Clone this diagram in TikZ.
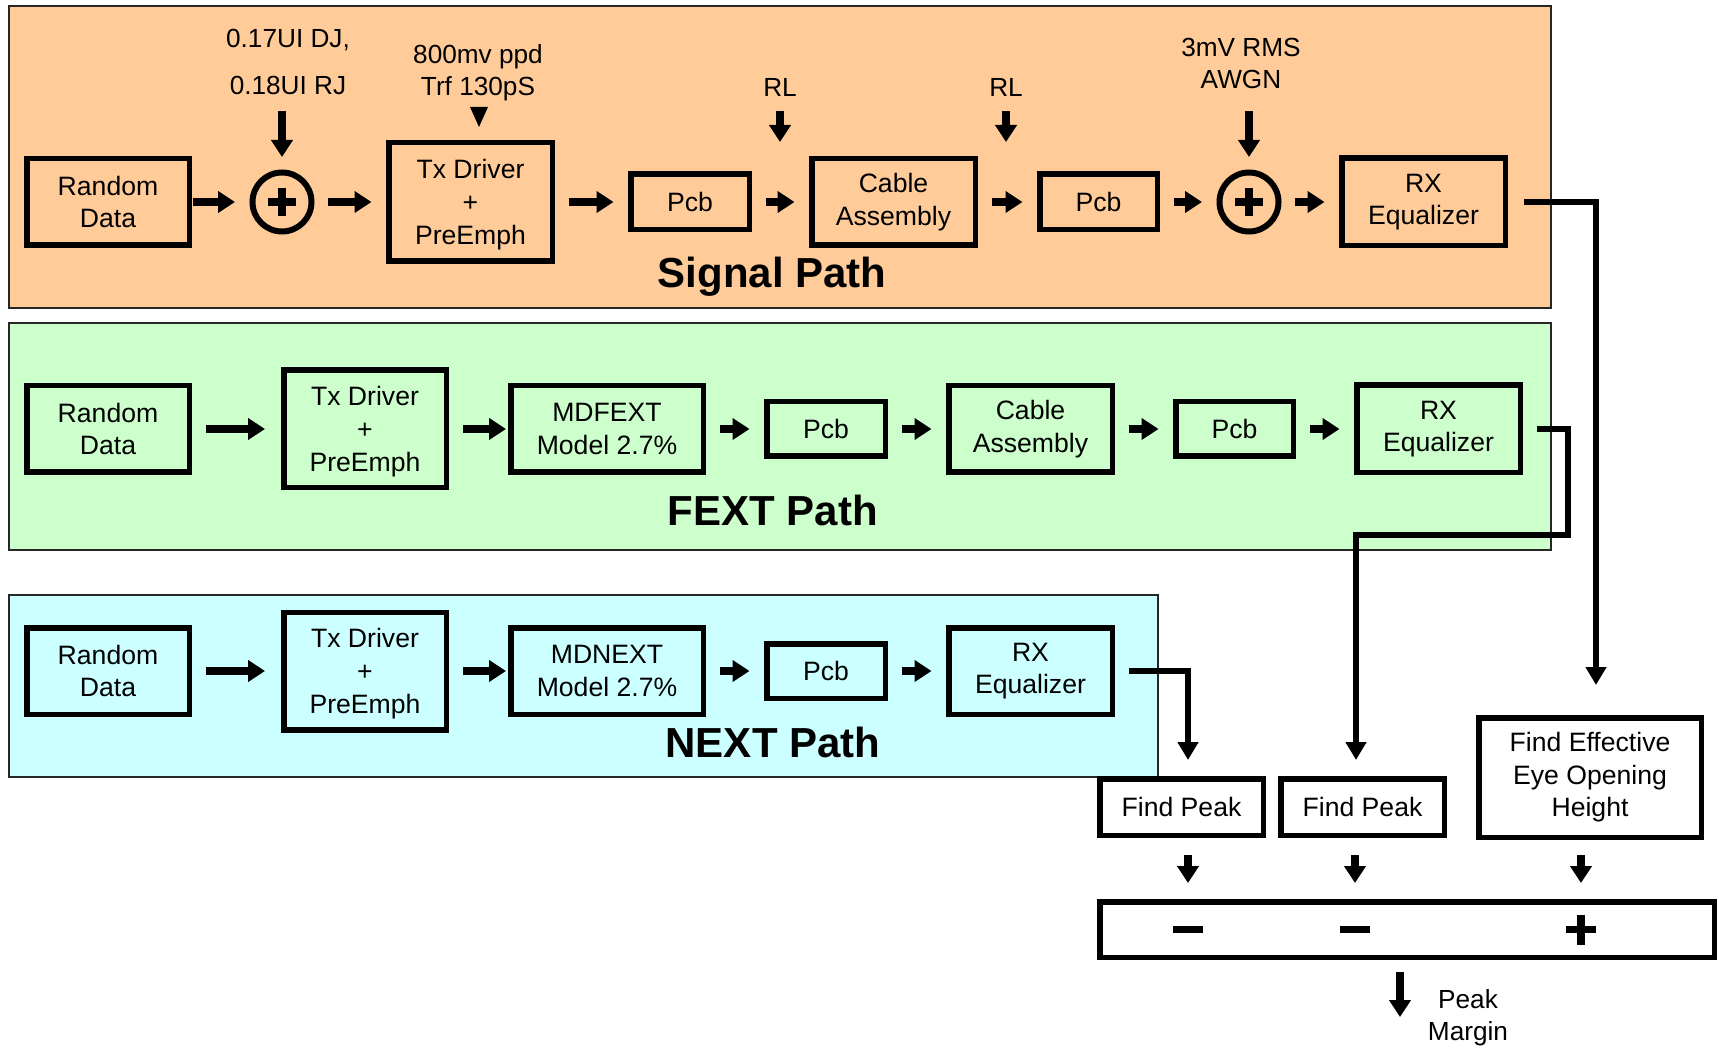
\documentclass[tikz,border=0pt]{standalone}
\usepackage{fontspec}
\setmainfont{Liberation Sans}
\usetikzlibrary{arrows.meta,calc}

\definecolor{sigbg}{RGB}{255,204,153}
\definecolor{fextbg}{RGB}{204,255,204}
\definecolor{nextbg}{RGB}{204,255,255}

\begin{document}
\begin{tikzpicture}[x=0.5pt,y=-0.5pt,
  panel/.style={draw=black!85, line width=1.2pt},
  blk/.style={draw, line width=2.75pt, align=center, inner sep=0pt,
    font=\fontsize{13.3pt}{16.3pt}\selectfont},
  lbl/.style={inner sep=0pt, align=center, font=\fontsize{13.1pt}{16pt}\selectfont},
  ttl/.style={inner sep=0pt, font=\fontsize{21pt}{24pt}\selectfont\bfseries},
  adder/.style={draw, circle, line width=3pt, minimum size=29.5pt, inner sep=0pt},
  plusbar/.style={line width=4pt},
  signbar/.style={line width=3.75pt},
  arr/.style={line width=3.75pt, -{Triangle[length=8.5pt,width=10.5pt]},
    shorten <=6.75pt, shorten >=7.25pt},
  conn/.style={line width=3pt, -{Triangle[length=9pt,width=10pt]}},
]
\useasboundingbox (0,0) rectangle (1719,1053);

% ---------- background panels ----------
\draw[panel, fill=sigbg]  (9,6)   rectangle (1551,308);
\draw[panel, fill=fextbg] (9,323) rectangle (1551,550);
\draw[panel, fill=nextbg] (9,595) rectangle (1158,777);

% ---------- signal path ----------
\node[blk, minimum width=81.25pt, minimum height=43.25pt] (srd) at (108,202) {Random\\Data};
\node[adder] (sp1) at (282,202) {};
\node[blk, minimum width=81.75pt, minimum height=59.25pt] (stx) at (470.5,202) {Tx Driver\\+\\PreEm\smash{p}h};
\node[blk, minimum width=59.25pt, minimum height=27.75pt] (spcb1) at (690,202) {Pcb};
\node[blk, minimum width=81.75pt, minimum height=43.25pt] (scab) at (893.5,202) {Cable\\Assembly};
\node[blk, minimum width=58.75pt, minimum height=27.75pt] (spcb2) at (1098.5,202) {Pcb};
\node[adder] (sp2) at (1249,202) {};
\node[blk, minimum width=81.75pt, minimum height=43.75pt] (srx) at (1423.5,202) {RX\\Equalizer};

\draw[plusbar] ($(sp1)+(-14,0)$) -- ($(sp1)+(14,0)$) ($(sp1)+(0,-14)$) -- ($(sp1)+(0,14)$);
\draw[plusbar] ($(sp2)+(-14,0)$) -- ($(sp2)+(14,0)$) ($(sp2)+(0,-14)$) -- ($(sp2)+(0,14)$);

\draw[arr, shorten <=0.5pt] (srd.east) -- (sp1.west);
\draw[arr] (sp1.east) -- (stx.west);
\draw[arr] (stx.east) -- (spcb1.west);
\draw[arr] (spcb1.east) -- (scab.west);
\draw[arr] (scab.east) -- (spcb2.west);
\draw[arr] (spcb2.east) -- (sp2.west);
\draw[arr] (sp2.east) -- (srx.west);

% impairment labels
\node[lbl, font=\fontsize{13.1pt}{23.5pt}\selectfont] (jit) at (288,62) {0.17UI DJ,\\0.18UI RJ};
\draw[arr, shorten <=8pt, shorten >=6.25pt] (jit.south -| sp1.north) -- (sp1.north);

\node[lbl] (drv) at (478,73) {800mv ppd\\Trf 130pS};
\fill (470,107) -- (488,107) -- (479,127) -- cycle;

\node[lbl] (rl1) at (780,87.4) {RL};
\coordinate (rl1end) at (780,142);
\draw[arr, shorten <=7pt, shorten >=0pt] (rl1.south) -- (rl1end);

\node[lbl] (rl2) at (1006,87.4) {RL};
\coordinate (rl2end) at (1006,142);
\draw[arr, shorten <=7pt, shorten >=0pt] (rl2.south) -- (rl2end);

\node[lbl] (awgn) at (1241,63.7) {3mV RMS\\AWGN};
\draw[arr, shorten <=11pt, shorten >=6.25pt] (awgn.south -| sp2.north) -- (sp2.north);

\node[ttl, anchor=base] (sigttl) at (772,288) {Signal Path};

% ---------- FEXT path ----------
\node[blk, minimum width=81.25pt, minimum height=43.25pt] (frd) at (108,429) {Random\\Data};
\node[blk, minimum width=81.25pt, minimum height=58.75pt] (ftx) at (365,429) {Tx Driver\\+\\PreEm\smash{p}h};
\node[blk, minimum width=96.25pt, minimum height=43.25pt] (fmd) at (607,429) {MDFEXT\\Model 2.7\%};
\node[blk, minimum width=59.25pt, minimum height=27.25pt] (fpcb1) at (826,429) {Pcb};
\node[blk, minimum width=81.75pt, minimum height=43.25pt] (fcab) at (1030.5,429) {Cable\\Assembly};
\node[blk, minimum width=58.75pt, minimum height=27.25pt] (fpcb2) at (1234.5,429) {Pcb};
\node[blk, minimum width=81.75pt, minimum height=43.75pt] (frx) at (1438.5,429) {RX\\Equalizer};

\draw[arr, shorten <=7pt, shorten >=8pt] (frd.east) -- (ftx.west);
\draw[arr, shorten <=7pt, shorten >=1pt] (ftx.east) -- (fmd.west);
\draw[arr] (fmd.east) -- (fpcb1.west);
\draw[arr] (fpcb1.east) -- (fcab.west);
\draw[arr] (fcab.east) -- (fpcb2.west);
\draw[arr] (fpcb2.east) -- (frx.west);

\node[ttl, anchor=base] (fextttl) at (773,525) {FEXT Path};

% ---------- NEXT path ----------
\node[blk, minimum width=81.25pt, minimum height=43.25pt] (nrd) at (108,671) {Random\\Data};
\node[blk, minimum width=81.25pt, minimum height=58.75pt] (ntx) at (365,671) {Tx Driver\\+\\PreEm\smash{p}h};
\node[blk, minimum width=96.25pt, minimum height=43.25pt] (nmd) at (607,671) {MDNEXT\\Model 2.7\%};
\node[blk, minimum width=59.25pt, minimum height=27.25pt] (npcb) at (826,671) {Pcb};
\node[blk, minimum width=81.75pt, minimum height=43.25pt] (nrx) at (1030.5,671) {RX\\Equalizer};

\draw[arr, shorten <=7pt, shorten >=8pt] (nrd.east) -- (ntx.west);
\draw[arr, shorten <=7pt, shorten >=1pt] (ntx.east) -- (nmd.west);
\draw[arr] (nmd.east) -- (npcb.west);
\draw[arr] (npcb.east) -- (nrx.west);

\node[ttl, anchor=base] (nextttl) at (773,757) {NEXT Path};

% ---------- margin computation ----------
\node[blk, minimum width=81.75pt, minimum height=28.25pt] (fp1) at (1181.5,807) {Find Peak};
\node[blk, minimum width=81.75pt, minimum height=28.25pt] (fp2) at (1362.5,807) {Find Peak};
\node[blk, minimum width=111.25pt, minimum height=59.75pt] (eye) at (1590,777.5) {Find Effective\\Eye Opening\\Height};
\node[blk, minimum width=307.25pt, minimum height=27.75pt] (sum) at (1407,929.5) {};

\draw[conn] ([xshift=7pt]nrx.east) -| ([xshift=3.25pt,yshift=8pt]fp1.north);
\draw[conn] ([xshift=7pt]frx.east) -- ++(31,0) -- ++(0,106) -| ([xshift=-3.25pt,yshift=8pt]fp2.north);
\draw[conn] ([xshift=8pt]srx.east) -| ([xshift=3pt,yshift=15pt]eye.north);

\draw[arr, shorten <=8.5pt, shorten >=8pt] ([xshift=3.25pt]fp1.south) -- ([xshift=3.25pt]fp1.south |- sum.north);
\draw[arr, shorten <=8.5pt, shorten >=8pt] ([xshift=-3.75pt]fp2.south) -- ([xshift=-3.75pt]fp2.south |- sum.north);
\draw[arr, shorten <=7.5pt, shorten >=8pt] ([xshift=-4.5pt]eye.south) -- ([xshift=-4.5pt]eye.south |- sum.north);

\draw[signbar] ($(sum.center)+(-234,0)$) -- ($(sum.center)+(-204,0)$);
\draw[signbar] ($(sum.center)+(-67,0)$) -- ($(sum.center)+(-37,0)$);
\draw[signbar] ($(sum.center)+(159,0)$) -- ($(sum.center)+(189,0)$)
               ($(sum.center)+(174,-15)$) -- ($(sum.center)+(174,15)$);

\node[lbl] (pm) at (1468,1017.4) {Peak\\Margin};
\coordinate (pmend) at (1400,1017);
\draw[arr, shorten <=6pt, shorten >=0pt] ([xshift=-3.5pt]sum.south) -- (pmend);
\end{tikzpicture}
\end{document}
